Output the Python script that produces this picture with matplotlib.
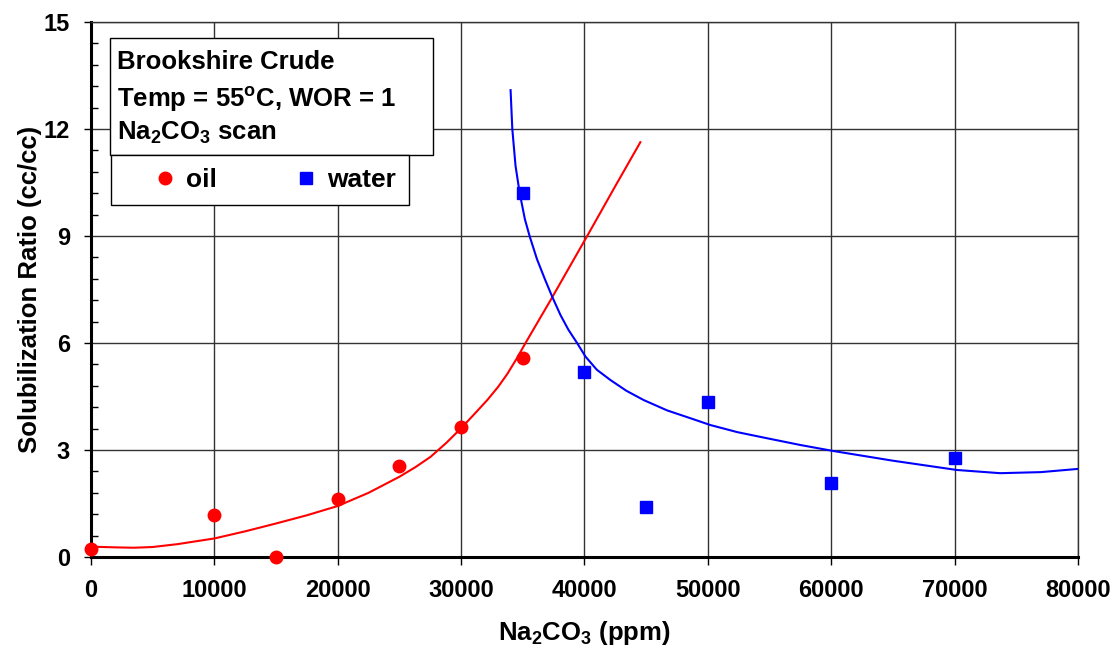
import matplotlib
matplotlib.use("Agg")
import matplotlib.pyplot as plt
from matplotlib.patches import Rectangle
from matplotlib.ticker import MultipleLocator

plt.rcParams['font.family'] = ['Liberation Sans', 'DejaVu Sans']
plt.rcParams['font.weight'] = 'bold'
plt.rcParams['mathtext.fontset'] = 'custom'
plt.rcParams['mathtext.rm'] = 'Liberation Sans:bold'
plt.rcParams['mathtext.default'] = 'rm'

# measured solubilization ratios
oil_x = [0, 10000, 15000, 20000, 25000, 30000, 35000]
oil_y = [0.22, 1.17, 0.0, 1.62, 2.54, 3.64, 5.57]
water_x = [35000, 40000, 45000, 50000, 60000, 70000]
water_y = [10.2, 5.18, 1.39, 4.34, 2.07, 2.77]

# trend lines
oil_fit_x = [0, 2000, 3500, 5000, 7000, 10000, 12500, 15000, 17500, 20000, 22500,
             25000, 26300, 27530, 28800, 30000, 31000, 32120, 33000, 33740, 34500,
             35220, 36200, 37250, 38700, 40220, 42500, 44530]
oil_fit_y = [0.29, 0.27, 0.26, 0.28, 0.36, 0.52, 0.72, 0.94, 1.17, 1.43, 1.8,
             2.25, 2.52, 2.81, 3.2, 3.61, 3.98, 4.40, 4.77, 5.13, 5.56,
             6.0, 6.58, 7.2, 8.08, 9.0, 10.4, 11.63]
water_fit_x = [34010, 34150, 34410, 34740, 35170, 35550, 36150, 36790, 37380, 38060,
               38700, 39400, 40080, 41000, 42110, 43400, 44800, 46700, 48850, 50200,
               52400, 54790, 57500, 60200, 65000, 70180, 73700, 77000, 80000]
water_fit_y = [13.09, 12.0, 10.97, 10.22, 9.47, 9.0, 8.35, 7.79, 7.3, 6.78,
               6.37, 6.0, 5.62, 5.25, 4.96, 4.66, 4.40, 4.11, 3.86, 3.70,
               3.5, 3.33, 3.14, 2.97, 2.70, 2.44, 2.35, 2.38, 2.47]

xticks = [0, 10000, 20000, 30000, 40000, 50000, 60000, 70000, 80000]
yticks = [0, 3, 6, 9, 12, 15]

fig, ax = plt.subplots(figsize=(11.15, 6.47), dpi=100)
fig.subplots_adjust(left=0.0816, right=0.9668, bottom=0.1391, top=0.966)

ax.plot(oil_fit_x, oil_fit_y, color='#ff0000', lw=1.5, zorder=3)
ax.plot(water_fit_x, water_fit_y, color='#0000ff', lw=1.5, zorder=3)
ax.plot(oil_x, oil_y, 'o', color='#ff0000', ms=9, ls='none', zorder=4,
        clip_on=False, label='oil')
ax.plot(water_x, water_y, 's', color='#0000ff', ms=8, ls='none', zorder=4,
        clip_on=False, label='water')

ax.set_xlim(0, 80000)
ax.set_ylim(0, 15)
ax.set_xticks(xticks)
ax.set_yticks(yticks)
ax.yaxis.set_minor_locator(MultipleLocator(0.6))
ax.tick_params(axis='both', labelsize=17)
ax.tick_params(axis='x', which='major', direction='out', length=6, width=1, pad=10)
ax.tick_params(axis='y', which='major', direction='out', length=5, width=1, pad=10)
ax.tick_params(axis='y', which='minor', direction='in', length=5, width=1)
for lab in ax.get_xticklabels() + ax.get_yticklabels():
    lab.set_fontweight('bold')

ax.grid(True, which='major', color='#333333', lw=1.0)
ax.set_axisbelow(True)
for side in ['left', 'bottom']:
    ax.spines[side].set_linewidth(2.2)
    ax.spines[side].set_color('black')
for side in ['top', 'right']:
    ax.spines[side].set_linewidth(1.0)
    ax.spines[side].set_color('#333333')

ax.set_xlabel('Na$_2$CO$_3$ (ppm)', fontsize=18.5, fontweight='bold', labelpad=12)
ax.set_ylabel('Solubilization Ratio (cc/cc)', fontsize=18.5, fontweight='bold', labelpad=1)

# title box
ax.add_patch(Rectangle((0.019, 0.7514), 0.3275, 0.2186, transform=ax.transAxes,
                       facecolor='white', edgecolor='black', lw=1.0, zorder=5))
ax.text(0.026, 0.925, 'Brookshire Crude', transform=ax.transAxes, fontsize=18.5,
        fontweight='bold', va='center', zorder=6)
ax.text(0.026, 0.855, 'Temp = 55$^{o}$C, WOR = 1', transform=ax.transAxes, fontsize=18.5,
        fontweight='bold', va='center', zorder=6)
ax.text(0.026, 0.793, 'Na$_2$CO$_3$ scan', transform=ax.transAxes, fontsize=18.5,
        fontweight='bold', va='center', zorder=6)

# legend box
ax.add_patch(Rectangle((0.0203, 0.658), 0.302, 0.0934, transform=ax.transAxes,
                       facecolor='white', edgecolor='black', lw=1.0, zorder=5))
leg = ax.legend(loc='center', bbox_to_anchor=(0.0343, 0.658, 0.302, 0.0934),
                ncol=2, frameon=False, handletextpad=0.3,
                columnspacing=2.9, handlelength=1.0,
                prop={'weight': 'bold', 'size': 19})
leg.set_zorder(7)

fig.savefig('out.png', dpi=100)
